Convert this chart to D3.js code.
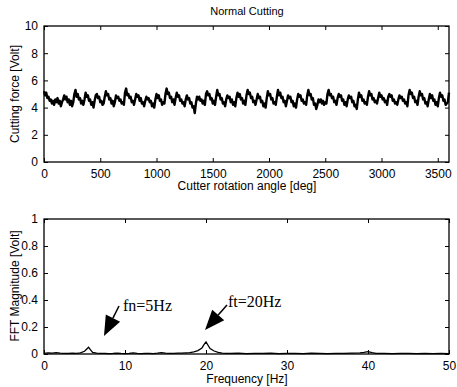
<!DOCTYPE html>
<html>
<head>
<meta charset="utf-8">
<script src="https://cdn.jsdelivr.net/npm/d3@7/dist/d3.min.js"></script>
<style>
  body { margin: 0; background: #fff; }
  svg { display: block; font-family: "Liberation Sans", Arial, sans-serif; }
  .tick text { fill: #000; }
  .tick line { stroke: #000; }
</style>
</head>
<body>
<svg id="chart" width="457" height="387"></svg>
<script>
// cutting force, one sample every 10 deg (0..3600)
const forceVolt = [
  5.2, 4.9, 5.1, 4.7, 4.8, 4.5, 4.6, 4.3, 4.5,
  4.2, 4.6, 4.4, 4.7, 4.3, 4.5, 4.1, 4.4, 4.6,
  4.9, 4.6, 4.8, 4.4, 4.6, 4.2, 4.5, 4.1, 4.4,
  5.0, 5.3, 4.8, 5.0, 4.6, 4.7, 4.3, 4.5, 4.2,
  4.6, 5.1, 4.8, 4.9, 4.5, 4.6, 4.2, 4.4, 4.0,
  4.5, 4.9, 5.0, 4.7, 4.8, 4.4, 4.5, 4.2, 4.3,
  4.8, 5.2, 4.9, 5.0, 4.6, 4.7, 4.3, 4.5, 4.1,
  4.4, 4.9, 4.7, 4.8, 4.5, 4.6, 4.3, 4.4, 4.2,
  5.1, 5.4, 4.9, 5.0, 4.7, 4.8, 4.4, 4.5, 4.2,
  4.6, 5.0, 4.8, 4.9, 4.5, 4.7, 4.3, 4.4, 4.1,
  4.5, 4.8, 4.6, 4.7, 4.4, 4.5, 4.1, 4.3, 4.0,
  4.6, 5.0, 4.7, 4.9, 4.5, 4.6, 4.2, 4.4, 4.3,
  5.0, 5.4, 5.0, 5.1, 4.7, 4.8, 4.4, 4.6, 4.2,
  4.7, 5.1, 4.8, 4.9, 4.5, 4.6, 4.3, 4.4, 4.1,
  4.6, 4.9, 4.6, 4.7, 4.3, 4.4, 4.0, 4.1, 3.6,
  4.3, 4.8, 4.6, 4.8, 4.5, 4.6, 4.3, 4.5, 4.2,
  5.0, 5.2, 4.9, 5.0, 4.6, 4.7, 4.3, 4.5, 4.2,
  4.8, 5.3, 4.9, 5.0, 4.6, 4.7, 4.3, 4.4, 4.1,
  4.6, 4.9, 4.7, 4.8, 4.4, 4.6, 4.2, 4.4, 4.1,
  4.7, 5.1, 4.8, 5.0, 4.6, 4.7, 4.3, 4.5, 4.2,
  4.9, 5.3, 5.0, 5.1, 4.7, 4.8, 4.4, 4.5, 4.2,
  4.6, 5.0, 4.7, 4.8, 4.4, 4.5, 4.1, 4.3, 4.0,
  4.7, 5.2, 4.9, 5.0, 4.6, 4.7, 4.3, 4.4, 4.2,
  4.8, 5.3, 4.9, 5.1, 4.7, 4.8, 4.4, 4.5, 4.1,
  4.5, 4.9, 4.7, 4.8, 4.4, 4.5, 4.1, 4.3, 4.0,
  4.6, 5.0, 4.8, 4.9, 4.5, 4.6, 4.3, 4.4, 4.2,
  4.9, 5.3, 4.9, 5.0, 4.6, 4.7, 4.2, 4.3, 3.9,
  4.2, 4.6, 4.4, 4.6, 4.3, 4.5, 4.2, 4.4, 4.3,
  5.0, 5.3, 4.9, 5.0, 4.7, 4.8, 4.4, 4.5, 4.2,
  4.7, 5.0, 4.8, 4.9, 4.5, 4.6, 4.2, 4.4, 4.1,
  4.6, 4.9, 4.7, 4.8, 4.4, 4.5, 4.1, 4.2, 3.9,
  4.6, 5.1, 4.8, 4.9, 4.5, 4.6, 4.3, 4.4, 4.2,
  4.8, 5.2, 4.9, 5.0, 4.6, 4.7, 4.4, 4.5, 4.3,
  4.7, 5.1, 4.8, 4.9, 4.6, 4.7, 4.4, 4.5, 4.2,
  4.8, 5.0, 4.8, 4.9, 4.5, 4.6, 4.3, 4.4, 4.2,
  4.6, 4.9, 4.7, 4.8, 4.5, 4.6, 4.3, 4.4, 4.1,
  4.9, 5.3, 5.0, 5.1, 4.7, 4.8, 4.4, 4.5, 4.2,
  4.8, 5.2, 4.9, 5.0, 4.6, 4.7, 4.3, 4.4, 4.1,
  4.6, 5.0, 4.7, 4.9, 4.5, 4.6, 4.2, 4.4, 4.1,
  4.7, 5.1, 4.8, 4.9, 4.5, 4.6, 4.2, 4.3, 4.4,
  5.1
];
const angleStep = 10;

// FFT magnitude
const fftFreq = [
  0, 0.5, 1, 1.5, 2, 2.5, 3, 3.5, 4, 4.5, 5, 5.25, 5.5, 5.75, 6, 6.5, 7, 7.5,
  8, 8.5, 9, 9.5, 10, 10.5, 11, 11.5, 12, 12.5, 13, 13.5, 14, 14.5, 15, 15.5,
  16, 16.5, 17, 17.5, 18, 18.5, 19, 19.5, 19.75, 20, 20.25, 20.5, 21, 21.5,
  22, 22.5, 23, 24, 25, 26, 27, 28, 29, 30, 31, 32, 33, 34, 35, 36, 37, 38,
  39, 39.5, 40, 40.5, 41, 42, 43, 44, 45, 46, 47, 48, 49, 50
];
const fftMag = [
  0.004, 0.008, 0.006, 0.010, 0.007, 0.005, 0.004, 0.006, 0.005, 0.008, 0.020, 0.035, 0.050, 0.030, 0.012, 0.006, 0.004, 0.005,
  0.003, 0.004, 0.006, 0.004, 0.003, 0.005, 0.008, 0.004, 0.003, 0.005, 0.004, 0.003, 0.006, 0.010, 0.006, 0.004,
  0.005, 0.007, 0.006, 0.008, 0.010, 0.015, 0.025, 0.045, 0.070, 0.090, 0.065, 0.040, 0.022, 0.012,
  0.007, 0.005, 0.004, 0.006, 0.003, 0.005, 0.004, 0.006, 0.003, 0.004, 0.005, 0.003, 0.006, 0.004, 0.003, 0.005, 0.004, 0.006,
  0.008, 0.012, 0.018, 0.010, 0.005, 0.004, 0.003, 0.005, 0.004, 0.003, 0.004, 0.003, 0.004, 0.003
];

const chartTitle = "Normal Cutting";
const forceTicksX = [0, 500, 1000, 1500, 2000, 2500, 3000, 3500];
const forceTicksY = [0, 2, 4, 6, 8, 10];
const fftTicksX = [0, 10, 20, 30, 40, 50];
const fftTicksY = [0, 0.2, 0.4, 0.6, 0.8, 1];

const svg = d3.select("#chart");

function drawPanel(box, xDomain, yDomain, xTicks, yTicks, yFmt) {
  const x = d3.scaleLinear().domain(xDomain).range([box.left, box.right]);
  const y = d3.scaleLinear().domain(yDomain).range([box.bottom, box.top]);
  const g = svg.append("g");

  // inward ticks on all four sides, labels only bottom/left
  g.append("g")
    .attr("transform", `translate(0,${box.bottom})`)
    .call(d3.axisBottom(x).tickValues(xTicks).tickSize(-4).tickPadding(7).tickFormat(d3.format("d")))
    .call(a => a.select(".domain").remove());
  g.append("g")
    .attr("transform", `translate(0,${box.top})`)
    .call(d3.axisTop(x).tickValues(xTicks).tickSize(-4).tickFormat(""))
    .call(a => a.select(".domain").remove());
  g.append("g")
    .attr("transform", `translate(${box.left},0)`)
    .call(d3.axisLeft(y).tickValues(yTicks).tickSize(-4).tickPadding(6).tickFormat(yFmt))
    .call(a => a.select(".domain").remove());
  g.append("g")
    .attr("transform", `translate(${box.right},0)`)
    .call(d3.axisRight(y).tickValues(yTicks).tickSize(-4).tickFormat(""))
    .call(a => a.select(".domain").remove());

  g.selectAll(".tick text")
    .style("font-size", "12px")
    .style("font-family", "'Liberation Sans', Arial, sans-serif");

  return { x, y, g };
}

function frame(box) {
  svg.append("rect")
    .attr("x", box.left).attr("y", box.top)
    .attr("width", box.right - box.left).attr("height", box.bottom - box.top)
    .attr("fill", "none").attr("stroke", "#000").attr("stroke-width", 1.3);
}

// top panel: cutting force
const topBox = { left: 44, right: 449, top: 26, bottom: 162 };
const p1 = drawPanel(topBox, [0, 3600], [0, 10], forceTicksX, forceTicksY, d3.format("d"));
p1.g.append("path")
  .datum(forceVolt)
  .attr("fill", "none")
  .attr("stroke", "#000")
  .attr("stroke-width", 2.4)
  .attr("stroke-linejoin", "round")
  .attr("d", d3.line().x((d, i) => p1.x(i * angleStep)).y(d => p1.y(d)));
frame(topBox);

svg.append("text").attr("x", 247).attr("y", 15).attr("text-anchor", "middle")
  .style("font-size", "11px").text(chartTitle);
svg.append("text").attr("x", 247).attr("y", 190).attr("text-anchor", "middle")
  .style("font-size", "12px").text("Cutter rotation angle [deg]");
svg.append("text").attr("transform", "translate(19,94) rotate(-90)").attr("text-anchor", "middle")
  .style("font-size", "12px").text("Cutting force [Volt]");

// bottom panel: FFT
const botBox = { left: 44, right: 449, top: 219, bottom: 354 };
const p2 = drawPanel(botBox, [0, 50], [0, 1], fftTicksX, fftTicksY, d3.format("~g"));
p2.g.append("path")
  .datum(fftFreq.map((f, i) => [f, fftMag[i]]))
  .attr("fill", "none")
  .attr("stroke", "#000")
  .attr("stroke-width", 1.3)
  .attr("d", d3.line().x(d => p2.x(d[0])).y(d => p2.y(d[1])));
frame(botBox);

svg.append("text").attr("x", 247).attr("y", 383).attr("text-anchor", "middle")
  .style("font-size", "12px").text("Frequency [Hz]");
svg.append("text").attr("transform", "translate(19,286) rotate(-90)").attr("text-anchor", "middle")
  .style("font-size", "12px").text("FFT Magnitude [Volt]");

// annotations with filled arrowheads
function arrow(x1, y1, x2, y2) {
  const ang = Math.atan2(y2 - y1, x2 - x1);
  const len = 20, half = 8;
  const bx = x2 - len * Math.cos(ang), by = y2 - len * Math.sin(ang);
  const px = -Math.sin(ang) * half, py = Math.cos(ang) * half;
  svg.append("line").attr("x1", x1).attr("y1", y1).attr("x2", bx).attr("y2", by)
    .attr("stroke", "#000").attr("stroke-width", 1.5);
  svg.append("path")
    .attr("d", `M${x2},${y2}L${bx + px},${by + py}L${bx - px},${by - py}Z`)
    .attr("fill", "#000");
}
arrow(119, 306, 104, 336);
arrow(227, 305, 205, 330);
svg.append("text").attr("x", 123).attr("y", 311)
  .style("font-family", "'Liberation Serif', 'Times New Roman', serif")
  .style("font-size", "16px").text("fn=5Hz");
svg.append("text").attr("x", 228).attr("y", 307)
  .style("font-family", "'Liberation Serif', 'Times New Roman', serif")
  .style("font-size", "16px").text("ft=20Hz");
</script>
</body>
</html>
